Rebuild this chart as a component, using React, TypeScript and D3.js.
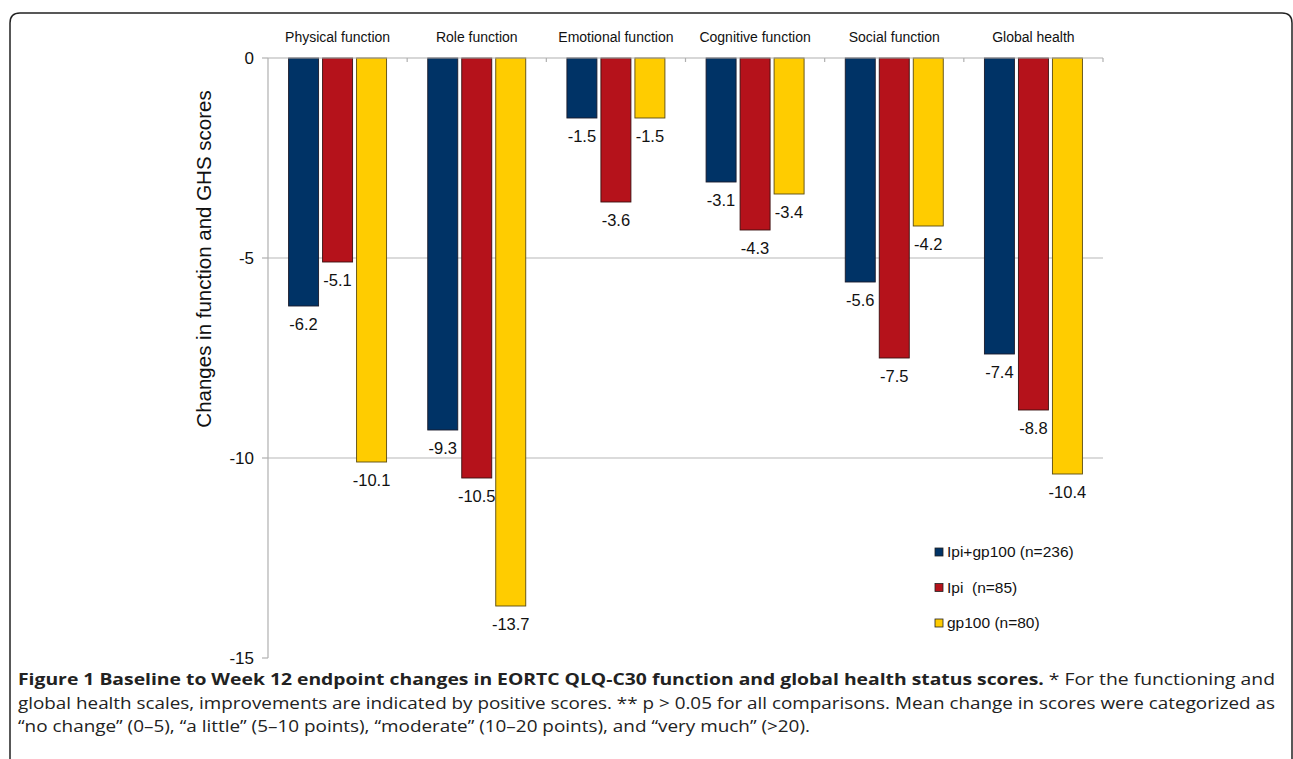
import React from "react";
import * as d3 from "d3";

const categories = ["Physical function", "Role function", "Emotional function", "Cognitive function", "Social function", "Global health"];
const seriesNames = ["Ipi+gp100 (n=236)", "Ipi  (n=85)", "gp100 (n=80)"];
const seriesColors = ["#003366", "#B5121B", "#FFCC00"];
const seriesStrokes = ["#1a1a2a", "#3a1010", "#5a4a10"];
const ipiGp100 = [-6.2, -9.3, -1.5, -3.1, -5.6, -7.4];
const ipi = [-5.1, -10.5, -3.6, -4.3, -7.5, -8.8];
const gp100 = [-10.1, -13.7, -1.5, -3.4, -4.2, -10.4];
const yTicks = [0, -5, -10, -15];
const yLabel = "Changes in function and GHS scores";

const W = 1293, H = 759;

export default function App() {
  const values = [ipiGp100, ipi, gp100];
  const x = d3.scaleBand<string>().domain(categories).range([268, 1103]).paddingInner(0).paddingOuter(0);
  const xs = d3.scaleBand<number>().domain([0, 1, 2]).range([0, 98]).paddingInner(4 / 34);
  const y = d3.scaleLinear().domain([0, -15]).range([58, 658]);
  const groupOffset = (x.bandwidth() - 98) / 2;
  const font = "'Liberation Sans', Arial, sans-serif";
  const capFont = "'Open Sans', sans-serif";
  const r = 10;
  const frame = `M10,${H} L10,${13 + r} Q10,13 ${10 + r},13 L${1292 - r},13 Q1292,13 1292,${13 + r} L1292,${H}`;

  return (
    <div style={{ position: "absolute", left: 0, top: 0 }}>
      <svg width={W} height={H} style={{ display: "block", background: "#fff" }}>
        <path d={frame} fill="none" stroke="#222" strokeWidth={1.5} />
        {/* gridlines */}
        {yTicks.filter(t => t !== 0 && t !== -15).map(t => (
          <line key={t} x1={268} x2={1103} y1={y(t)} y2={y(t)} stroke="#b8b8b8" strokeWidth={1.2} />
        ))}
        {/* y axis */}
        <line x1={268} x2={268} y1={y(0)} y2={y(-15)} stroke="#b0b0b0" strokeWidth={1.2} />
        {yTicks.map(t => (
          <g key={t}>
            <line x1={262} x2={268} y1={y(t)} y2={y(t)} stroke="#b0b0b0" strokeWidth={1.2} />
            <text x={254} y={y(t)} dy="0.35em" textAnchor="end" fontFamily={font} fontSize={17} fill="#111">{t}</text>
          </g>
        ))}
        <text transform={`translate(206,259) rotate(-90)`} textAnchor="middle" dominantBaseline="middle" fontFamily={font} fontSize={20.5} fill="#111">{yLabel}</text>
        {/* bars */}
        {categories.map((c, ci) => (
          <g key={c}>
            {values.map((vals, si) => {
              const bx = (x(c) as number) + groupOffset + (xs(si) as number);
              const v = vals[ci];
              return (
                <g key={si}>
                  <rect x={bx} y={y(0)} width={xs.bandwidth()} height={y(v) - y(0)} fill={seriesColors[si]} stroke={seriesStrokes[si]} strokeWidth={0.9} />
                  <text x={bx + xs.bandwidth() / 2} y={y(v) + 24} textAnchor="middle" fontFamily={font} fontSize={16.5} fill="#111">{v.toFixed(1)}</text>
                </g>
              );
            })}
          </g>
        ))}
        {/* category axis at zero */}
        <line x1={268} x2={1103} y1={y(0)} y2={y(0)} stroke="#b0b0b0" strokeWidth={1.2} />
        {categories.map((c, i) => (
          <line key={"t" + i} x1={(x(c) as number) + x.bandwidth()} x2={(x(c) as number) + x.bandwidth()} y1={y(0)} y2={y(0) + 4} stroke="#b0b0b0" strokeWidth={1.2} />
        ))}
        {categories.map(c => (
          <text key={"l" + c} x={(x(c) as number) + x.bandwidth() / 2} y={42} textAnchor="middle" fontFamily={font} fontSize={14} fill="#111">{c}</text>
        ))}
        {/* legend */}
        {seriesNames.map((n, i) => (
          <g key={n} transform={`translate(935,${552 + i * 35.5})`}>
            <rect x={0} y={-4} width={8} height={8} fill={seriesColors[i]} stroke="#222" strokeWidth={0.8} />
            <text x={12} y={0} dy="0.35em" fontFamily={font} fontSize={15.5} fill="#111" style={{ whiteSpace: "pre" }}>{n}</text>
          </g>
        ))}
        {/* caption */}
        <text x={18} y={685} fontFamily={capFont} fontSize={16.5} fill="#222" textLength={1257} lengthAdjust="spacingAndGlyphs">
          <tspan fontWeight="bold">Figure 1 Baseline to Week 12 endpoint changes in EORTC QLQ-C30 function and global health status scores.</tspan>
          <tspan> * For the functioning and</tspan>
        </text>
        <text x={18} y={709} fontFamily={capFont} fontSize={16.5} fill="#222" textLength={1257} lengthAdjust="spacingAndGlyphs">
          global health scales, improvements are indicated by positive scores. ** p {">"} 0.05 for all comparisons. Mean change in scores were categorized as
        </text>
        <text x={18} y={732} fontFamily={capFont} fontSize={16.5} fill="#222" textLength={792} lengthAdjust="spacingAndGlyphs">
          “no change” (0–5), “a little” (5–10 points), “moderate” (10–20 points), and “very much” ({">"}20).
        </text>
      </svg>
    </div>
  );
}
